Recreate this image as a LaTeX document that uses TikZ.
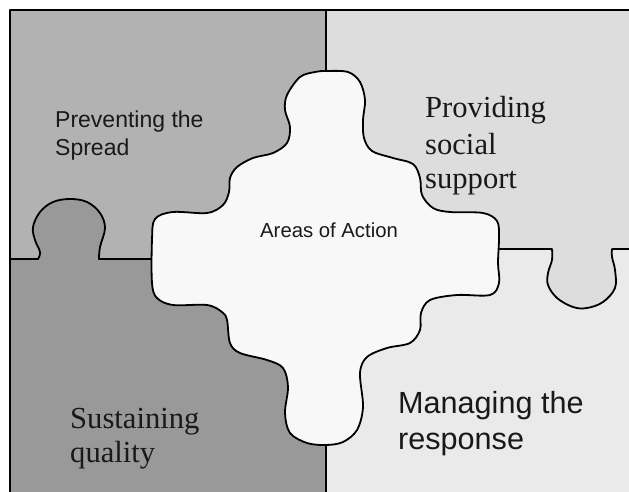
\documentclass[tikz,border=0pt]{standalone}
\usepackage{fontspec}
\setmainfont{Liberation Serif}
\newfontfamily\arialf{Liberation Sans}
\definecolor{tlcol}{HTML}{B2B2B2}
\definecolor{trcol}{HTML}{DDDDDD}
\definecolor{blcol}{HTML}{999999}
\definecolor{brcol}{HTML}{EAEAEA}
\definecolor{blobcol}{HTML}{F8F8F8}
\begin{document}
\begin{tikzpicture}[x=1pt,y=-1pt,
  edge/.style={line width=1.8pt, line join=round, line cap=round},
  lbl/.style={anchor=base west, inner sep=0pt, text=black!90},
  smallsans/.style={lbl, font=\arialf\fontsize{23}{27}\selectfont},
  areasans/.style={lbl, font=\arialf\fontsize{20.3}{24}\selectfont},
  bigsans/.style={lbl, font=\arialf\fontsize{30.6}{35}\selectfont},
  bigserif/.style={lbl, font=\fontsize{30.6}{35}\selectfont}]
\useasboundingbox (0,0) rectangle (629,492);
\clip (0,0) rectangle (629,492);
\fill[white] (0,0) rectangle (629,492);
% quadrants
\fill[tlcol] (10,10) rectangle (326,259);
\fill[trcol] (326,10) rectangle (640,249);
\fill[blcol] (10,259) rectangle (326,500);
\fill[brcol] (326,249) rectangle (640,500);
% knobs
\fill[blcol] plot[smooth, tension=0.6] coordinates {(38,260) (40,252) (35,240) (33,227) (40,212) (53,202) (70,199) (87,202) (100,213) (105,228) (100,247) (99,260)} -- cycle;
\fill[trcol] plot[smooth, tension=0.6] coordinates {(552,248) (552,260) (548,273) (548,285) (557,298) (573,307) (587,308) (603,302) (615,288) (615,270) (612,257) (612,248)} -- cycle;
% dividers and frame
\draw[edge] (10,500) -- (10,10) -- (640,10);
\draw[edge] (326,10) -- (326,500);
\draw[edge] (10,259) -- (38,259) -- plot[smooth, tension=0.6] coordinates {(38,259) (40,252) (35,240) (33,227) (40,212) (53,202) (70,199) (87,202) (100,213) (105,228) (100,247) (99,259)} -- (152,259);
\draw[edge] (498,249) -- (552,249) -- plot[smooth, tension=0.6] coordinates {(552,249) (552,260) (548,273) (548,285) (557,298) (573,307) (587,308) (603,302) (615,288) (615,270) (612,257) (612,249)} -- (640,249);
% central piece
\draw[edge, fill=blobcol] plot[smooth cycle, tension=0.55] coordinates {
 (326,71) (348,72) (360,82) (365,100) (363,120) (364,138) (372,151) (393,158)
 (413,164) (420,178) (422,195) (433,208) (450,212) (483,213) (497,221) (499,237)
 (498,263) (499,283) (490,295) (457,295) (430,300) (421,313) (420,330) (410,343)
 (387,348) (367,357) (360,373) (363,407) (357,430) (343,442) (326,445) (307,443)
 (290,433) (285,413) (288,387) (283,368) (267,360) (240,353) (230,343) (227,320)
 (222,312) (207,305) (173,305) (157,298) (152,283) (152,240) (155,219) (173,212)
 (207,213) (223,205) (229,192) (230,178) (237,167) (253,158) (273,153) (287,143)
 (290,127) (285,110) (287,95) (300,77) (315,72)};
% labels
\node[smallsans] (prev1) at (55,128) {Preventing the};
\node[smallsans] (prev2) at (55,155) {Spread};
\node[areasans] (areas) at (260,237) {Areas of Action};
\node[bigserif] (prov1) at (425,118) {Providing};
\node[bigserif] (prov2) at (425,154) {social};
\node[bigserif] (prov3) at (425,188) {support};
\node[bigserif] (sust1) at (70,428) {Sustaining};
\node[bigserif] (sust2) at (70,462) {quality};
\node[bigsans] (man1) at (398,413) {Managing the};
\node[bigsans] (man2) at (398,449) {response};
\end{tikzpicture}
\end{document}
